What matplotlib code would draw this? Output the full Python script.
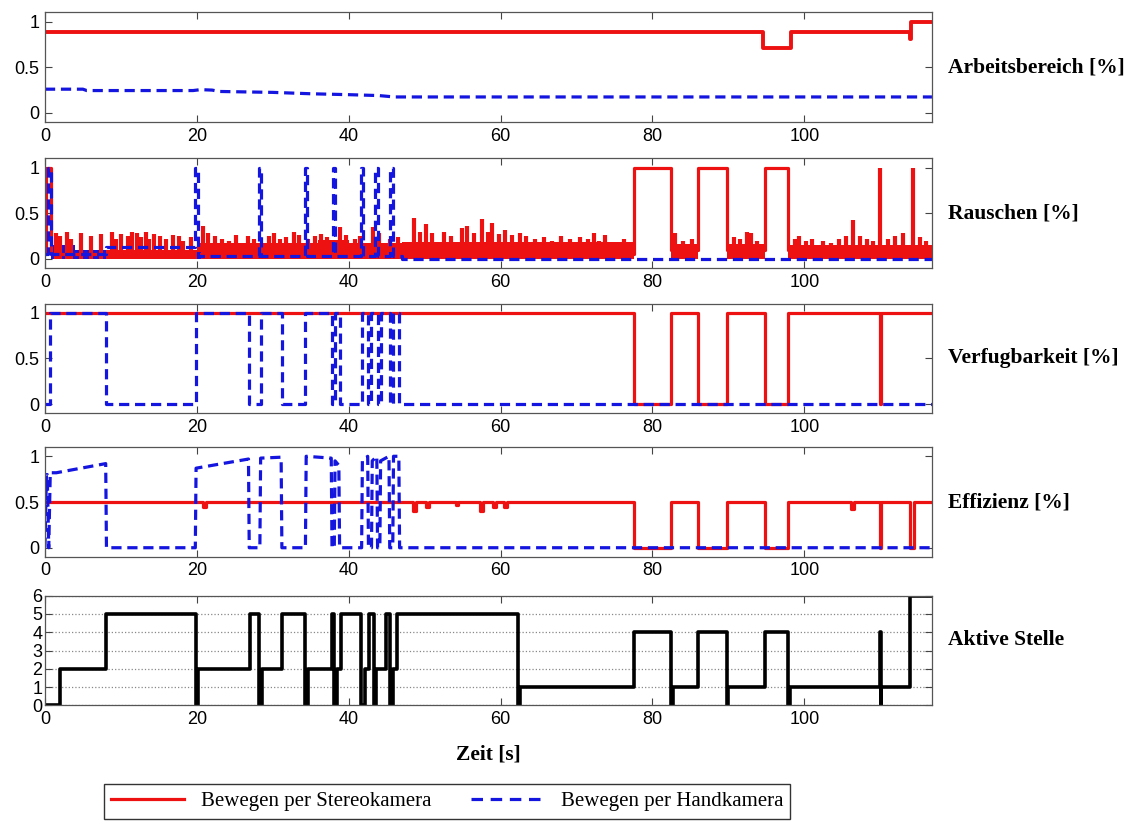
import matplotlib
matplotlib.use("Agg")
import matplotlib.pyplot as plt
from matplotlib.lines import Line2D

# ---------------- data ----------------
T_END = 116.8

# Panel 1: Arbeitsbereich
arb_red_t = [0, 94.6, 97.6, 98.2, 113.9, 114.1]
arb_red_v = [0.88, 0.71, 0.71, 0.88, 0.81, 1.0]
arb_blue_t = [0, 5.0, 5.5, 19.5, 20.5, 22.0, 23.0, 30.0, 35.0, 40.0, 44.0, 46.0, T_END]
arb_blue_v = [0.26, 0.26, 0.245, 0.245, 0.255, 0.25, 0.235, 0.225, 0.21, 0.20, 0.19, 0.175, 0.175]

# Panel 2: Rauschen
rau_red_t = [0, 0.2, 0.8, 77.6, 82.4, 86.0, 89.8, 94.8, 97.9]
rau_red_v = [0.05, 1.0, 0.05, 1.0, 0.1, 1.0, 0.1, 1.0, 0.1]
rau_band_t = [0, 0.8, 8.0, 20.0, 36.0, 40.0, 47.0, 77.6, 82.4, 86.0, 89.8, 94.8, 97.9]
rau_band_top = [0.0, 0.05, 0.1, 0.17, 0.21, 0.17, 0.19, 0.0, 0.16, 0.0, 0.16, 0.0, 0.15]
rau_spike_t = [1.5, 2.0, 2.9, 3.4, 4.8, 6.0, 7.4, 8.8, 9.3, 10.0, 10.9, 11.4, 12.1, 12.6,
               13.3, 13.7, 14.4, 15.2, 15.9, 16.8, 17.7, 18.2, 19.2, 20.8, 21.5, 22.4,
               23.3, 24.3, 25.2, 26.7, 27.5, 29.5, 30.2, 30.9, 31.8, 32.8, 33.5, 34.7,
               35.6, 36.3, 37.2, 38.9, 39.6, 40.8, 41.5, 43.2, 44.0, 45.5, 46.5, 48.6,
               49.4, 50.2, 51.0, 52.6, 53.5, 54.9, 55.6, 56.5, 57.5, 58.3, 58.9, 59.8,
               60.6, 61.5, 62.5, 63.4, 64.5, 65.7, 66.8, 68.0, 69.2, 70.5, 71.5, 72.3,
               73.0, 73.8, 75.0, 76.2, 83.0, 84.0, 85.2, 90.8, 91.5, 92.4, 93.0, 93.8,
               98.8, 99.3, 100.2, 101.0, 102.5, 103.5, 104.5, 105.5, 106.4, 107.3,
               108.2, 109.0, 110.0, 111.0, 112.0, 113.0, 114.3, 115.2, 116.0]
rau_spike_h = [0.28, 0.25, 0.3, 0.22, 0.28, 0.25, 0.27, 0.3, 0.22, 0.27, 0.25, 0.3, 0.28, 0.24,
               0.3, 0.22, 0.27, 0.25, 0.22, 0.26, 0.25, 0.2, 0.24, 0.36, 0.28, 0.25,
               0.22, 0.2, 0.26, 0.25, 0.22, 0.25, 0.28, 0.22, 0.24, 0.3, 0.26, 0.22,
               0.25, 0.27, 0.24, 0.35, 0.26, 0.22, 0.25, 0.35, 0.28, 0.22, 0.24, 0.45,
               0.3, 0.38, 0.28, 0.3, 0.25, 0.34, 0.36, 0.28, 0.44, 0.3, 0.39, 0.27,
               0.32, 0.26, 0.28, 0.25, 0.22, 0.24, 0.2, 0.25, 0.22, 0.24, 0.22, 0.28,
               0.2, 0.26, 0.18, 0.22, 0.28, 0.2, 0.22, 0.24, 0.22, 0.3, 0.28, 0.2,
               0.22, 0.25, 0.2, 0.22, 0.2, 0.18, 0.22, 0.25, 0.43, 0.25,
               0.22, 0.2, 1.0, 0.22, 0.25, 0.28, 1.0, 0.24, 0.2]
rau_blue_t = [0, 0.4, 0.8, 8.0, 19.8, 20.1, 28.2, 28.5, 34.2, 34.5, 37.9, 38.2,
              41.6, 41.9, 43.5, 43.8, 45.5, 45.8, 47.0]
rau_blue_v = [0.05, 1.0, 0.05, 0.13, 1.0, 0.03, 1.0, 0.03, 1.0, 0.03, 1.0, 0.03,
              1.0, 0.03, 1.0, 0.03, 1.0, 0.03, 0.0]
rau_bluefill_t = [0, 0.8, 4.0, 8.0, 20.0, 21.0]
rau_bluefill_top = [0.0, 0.15, 0.1, 0.0, 0.08, 0.0]

# Panel 3: Verfugbarkeit
ver_red_t = [0, 77.6, 82.4, 86.0, 89.8, 94.8, 97.9, 109.95, 110.1]
ver_red_v = [1, 0, 1, 0, 1, 0, 1, 0, 1]
ver_blue_t = [0, 0.7, 8.0, 19.9, 26.9, 28.4, 31.2, 34.3, 37.8, 38.2, 38.8,
              41.7, 42.6, 43.0, 43.8, 44.2, 45.4, 45.8, 46.6]
ver_blue_v = [0, 1, 0, 1, 0, 1, 0, 1, 0, 1, 0, 1, 0, 1, 0, 1, 0, 1, 0]

# Panel 4: Effizienz
eff_red_t = [0, 20.8, 21.2, 48.4, 48.8, 50.2, 50.6, 54.1, 54.4, 57.3, 57.7, 59.0, 59.4,
             60.5, 60.9, 77.6, 82.4, 86.0, 89.8, 94.8, 97.9, 106.2, 106.5, 109.95, 110.1,
             113.9, 114.4]
eff_red_v = [0.5, 0.45, 0.5, 0.4, 0.5, 0.45, 0.5, 0.47, 0.5, 0.4, 0.5, 0.45, 0.5,
             0.45, 0.5, 0, 0.5, 0, 0.5, 0, 0.5, 0.42, 0.5, 0, 0.5, 0, 0.5]
eff_blue_t = [0, 0.2, 0.3, 0.5, 0.7, 1.5, 8.0, 8.1, 19.8, 19.9, 26.8, 26.9, 28.3, 28.4,
              31.1, 31.2, 34.3, 34.4, 37.7, 37.8, 38.1, 38.2, 38.7, 38.8, 41.7, 41.8,
              42.5, 42.6, 43.0, 43.1, 43.7, 43.8, 44.1, 44.2, 45.3, 45.4, 45.8, 45.9,
              46.6, 46.7, T_END]
eff_blue_v = [0, 0.8, 0.8, 0, 0.82, 0.82, 0.92, 0, 0, 0.87, 0.97, 0, 0, 0.98,
              0.99, 0, 0, 1.0, 0.98, 0, 0, 0.95, 0.9, 0, 0, 0.95,
              1.0, 0, 0, 0.95, 1.0, 0, 0, 0.95, 1.0, 0, 0, 1.0,
              1.0, 0, 0]

# Panel 5: Aktive Stelle
akt_t = [0, 2.0, 8.0, 19.9, 20.1, 27.0, 28.2, 28.6, 31.2, 34.3, 34.6, 37.8, 38.0, 38.4,
         39.0, 41.6, 42.2, 42.7, 43.3, 43.6, 44.9, 45.5, 45.8, 46.4, 62.3, 62.6, 77.6,
         82.4, 82.7, 86.0, 89.8, 90.0, 94.8, 97.9, 98.1, 109.95, 110.05, 110.15, 113.9]
akt_v = [0, 2, 5, 0, 2, 5, 0, 2, 5, 0, 2, 5, 0, 2,
         5, 0, 2, 5, 0, 2, 5, 0, 2, 5, 0, 1, 4,
         0, 1, 4, 0, 1, 4, 0, 1, 4, 0, 1, 6]

x_ticks = [0, 20, 40, 60, 80, 100]
row_labels = ["Arbeitsbereich [%]", "Rauschen [%]", "Verfugbarkeit [%]",
              "Effizienz [%]", "Aktive Stelle"]
legend_labels = ["Bewegen per Stereokamera", "Bewegen per Handkamera"]
xlabel = "Zeit [s]"

# ---------------- style ----------------
RED = "#ee1111"
BLUE = "#1515e0"
LW = 2.3
DASH = (3.2, 1.8)
SANS = ["Liberation Sans", "DejaVu Sans"]
SERIF = ["Liberation Serif", "DejaVu Serif"]

plt.rcParams["font.family"] = SANS


def ext(t, v):
    return list(t) + [T_END], list(v) + [v[-1]]


fig = plt.figure(figsize=(11.35, 8.25), dpi=100)
L, W = 0.0396, 0.7815
bottoms = [0.852, 0.675, 0.499, 0.325, 0.145]
H = 0.133
axes = [fig.add_axes([L, b, W, H]) for b in bottoms]

for i, ax in enumerate(axes):
    ax.set_xlim(0, T_END)
    ax.set_xticks(x_ticks)
    if i < 4:
        ax.set_ylim(-0.1, 1.1)
        ax.set_yticks([0, 0.5, 1])
        ax.set_yticklabels(["0", "0.5", "1"])
    ax.tick_params(direction="in", top=True, right=True, length=5, width=0.8,
                   labelsize=13, pad=4, color="#444444")
    for s in ax.spines.values():
        s.set_color("#555555")
        s.set_linewidth(0.9)
    ax.text(1.018, 0.5 if i < 4 else 0.6, row_labels[i], transform=ax.transAxes,
            ha="left", va="center", family=SERIF, fontweight="bold", fontsize=15.5)

# Panel 1
ax = axes[0]
t, v = ext(arb_red_t, arb_red_v)
ax.step(t, v, where="post", color=RED, lw=2.8)
ax.plot(arb_blue_t, arb_blue_v, color=BLUE, lw=LW, dashes=DASH)

# Panel 2
ax = axes[1]
t, v = ext(rau_band_t, rau_band_top)
ax.fill_between(t, 0, v, step="post", color=RED, lw=0)
ax.vlines(rau_spike_t, 0, rau_spike_h, color=RED, lw=3.0)
t, v = ext(rau_red_t, rau_red_v)
ax.step(t, v, where="post", color=RED, lw=LW)
t, v = ext(rau_bluefill_t, rau_bluefill_top)
ax.fill_between(t, 0, v, step="post", color=BLUE, lw=0)
t, v = ext(rau_blue_t, rau_blue_v)
ax.step(t, v, where="post", color=BLUE, lw=LW, dashes=DASH)

# Panel 3
ax = axes[2]
t, v = ext(ver_red_t, ver_red_v)
ax.step(t, v, where="post", color=RED, lw=LW)
t, v = ext(ver_blue_t, ver_blue_v)
ax.step(t, v, where="post", color=BLUE, lw=LW, dashes=DASH)

# Panel 4
ax = axes[3]
t, v = ext(eff_red_t, eff_red_v)
ax.step(t, v, where="post", color=RED, lw=LW)
ax.plot(eff_blue_t, eff_blue_v, color=BLUE, lw=LW, dashes=DASH)

# Panel 5
ax = axes[4]
ax.set_ylim(0, 6)
ax.set_yticks(range(0, 7))
ax.grid(axis="y", linestyle=":", color="#888888", lw=0.9)
t, v = ext(akt_t, akt_v)
ax.step(t, v, where="post", color="black", lw=2.6)
ax.set_xlabel(xlabel, family=SERIF, fontweight="bold", fontsize=15.5, labelpad=12)
ax.tick_params(axis="y", pad=2)

handles = [Line2D([], [], color=RED, lw=LW),
           Line2D([], [], color=BLUE, lw=LW, dashes=(3.6, 2.4))]
leg = fig.legend(handles, legend_labels, loc="center", bbox_to_anchor=(0.394, 0.0285),
                 ncol=2, frameon=True, fancybox=False, edgecolor="black",
                 prop={"family": SERIF, "size": 15}, handlelength=3.5,
                 columnspacing=1.9, borderpad=0.35, handletextpad=0.8,
                 borderaxespad=0.0)
leg.get_frame().set_linewidth(1.0)

fig.savefig("out.png", dpi=100)
